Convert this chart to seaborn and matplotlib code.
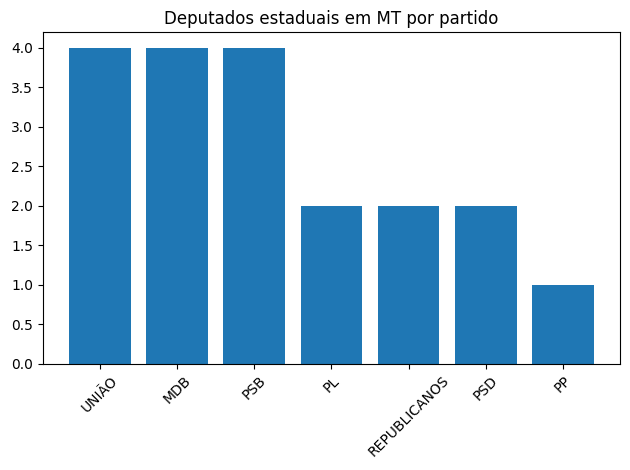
import matplotlib

matplotlib.use("Agg")
import matplotlib.pyplot as plt
import pandas as pd
import seaborn as sns

partidos = ["UNIÃO", "MDB", "PSB", "PL", "REPUBLICANOS", "PSD", "PP"]
deputados = [4, 4, 4, 2, 2, 2, 1]

df = pd.DataFrame({"partido": partidos, "deputados": deputados})

fig, ax = plt.subplots(figsize=(6.3, 4.7), dpi=100)
sns.barplot(
    data=df,
    x="partido",
    y="deputados",
    color="#1f77b4",
    saturation=1,
    width=0.8,
    ax=ax,
)

# restore matplotlib's default 5% margins, which seaborn drops
span = (len(partidos) - 1) + 0.8
pad = 0.05 * span
ax.set_xlim(-0.4 - pad, len(partidos) - 1 + 0.4 + pad)
ax.set_ylim(0, max(deputados) * 1.05)

ax.set_title("Deputados estaduais em MT por partido")
ax.set_xlabel("")
ax.set_ylabel("")
ax.tick_params(axis="x", labelrotation=45)
fig.subplots_adjust(left=0.068, right=0.984, top=0.932, bottom=0.226)
fig.savefig("out.png", dpi=100)
plt.close(fig)
